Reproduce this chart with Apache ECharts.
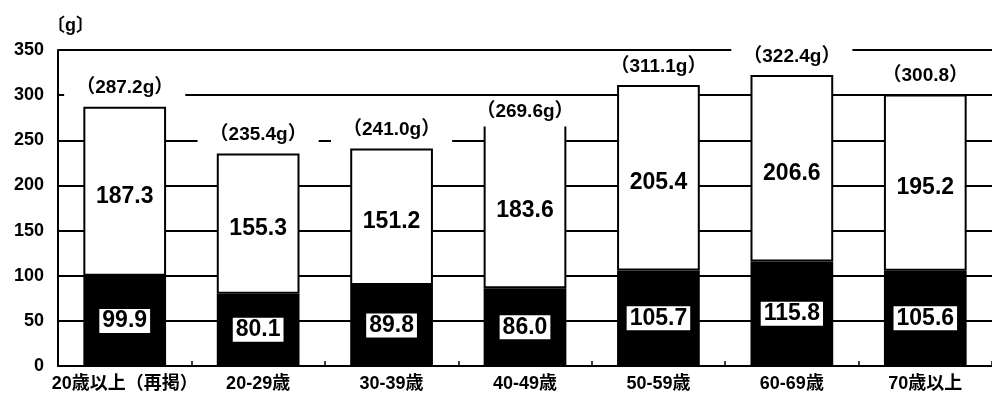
<!DOCTYPE html>
<html>
<head>
<meta charset="utf-8">
<script src="https://cdn.jsdelivr.net/npm/echarts@6/dist/echarts.min.js"></script>
<style>
  html, body { margin: 0; padding: 0; background: #fff; }
  #chart { width: 992px; height: 407px; }
</style>
</head>
<body>
<div id="chart"></div>
<script>
// Age groups and intake (g) split into two parts, plus the totals
const categories = ['20歳以上（再掲）', '20-29歳', '30-39歳', '40-49歳', '50-59歳', '60-69歳', '70歳以上'];
const lowerValues = [99.9, 80.1, 89.8, 86.0, 105.7, 115.8, 105.6];
const upperValues = [187.3, 155.3, 151.2, 183.6, 205.4, 206.6, 195.2];
const totals = [287.2, 235.4, 241.0, 269.6, 311.1, 322.4, 300.8];
const totalSuffix = ['g', 'g', 'g', 'g', 'g', 'g', ''];
const yTicks = [0, 50, 100, 150, 200, 250, 300, 350];

const FONT = "'Liberation Sans','Noto Sans CJK JP',sans-serif";

const chart = echarts.init(document.getElementById('chart'), null, { renderer: 'canvas' });

chart.setOption({
  animation: false,
  backgroundColor: '#fff',
  title: {
    text: '〔g〕',
    left: 42,
    top: 12,
    textStyle: { fontFamily: FONT, fontSize: 18, fontWeight: 'bold', color: '#000' }
  },
  grid: { left: 58, right: 0, top: 50, bottom: 41, containLabel: false },
  xAxis: {
    type: 'category',
    data: categories,
    axisLine: { lineStyle: { color: '#000', width: 2 } },
    axisTick: { show: true, inside: true, length: 5, lineStyle: { color: '#000', width: 1.5 } },
    axisLabel: {
      interval: 0,
      margin: 9,
      fontFamily: FONT, fontSize: 18, fontWeight: 'bold', color: '#000'
    }
  },
  yAxis: {
    type: 'value',
    min: yTicks[0],
    max: yTicks[yTicks.length - 1],
    interval: 50,
    axisLine: { show: true, lineStyle: { color: '#000', width: 2 } },
    axisTick: { show: false },
    axisLabel: {
      margin: 14,
      fontFamily: FONT, fontSize: 18, fontWeight: 'bold', color: '#000'
    },
    splitLine: { show: true, lineStyle: { color: '#000', width: 2 } }
  },
  series: [
    {
      name: 'lower',
      type: 'bar',
      stack: 'intake',
      barWidth: '62%',
      data: lowerValues,
      itemStyle: { color: '#000', borderColor: '#000', borderWidth: 0 },
      label: {
        show: true,
        position: 'inside',
        formatter: p => p.value.toFixed(1),
        fontFamily: FONT, fontSize: 23, fontWeight: 'bold', color: '#000',
        backgroundColor: '#fff',
        padding: [1, 3, 0, 3]
      }
    },
    {
      name: 'upper',
      type: 'bar',
      stack: 'intake',
      barWidth: '62%',
      data: upperValues,
      itemStyle: { color: '#fff', borderColor: '#000', borderWidth: 2 },
      label: {
        show: true,
        position: 'inside',
        offset: [0, 5],
        formatter: p => p.value.toFixed(1),
        fontFamily: FONT, fontSize: 23, fontWeight: 'bold', color: '#000'
      }
    },
    {
      // transparent bar of the total height, drawn on top, only carries the total label
      name: 'total',
      type: 'bar',
      barWidth: '62%',
      barGap: '-100%',
      z: 3,
      data: totals.map((v, i) => i === 3 ? { value: v, label: { distance: -4 } } : v),
      itemStyle: { color: 'rgba(0,0,0,0)' },
      label: {
        show: true,
        position: 'top',
        distance: 4,
        formatter: p => '（' + p.value.toFixed(1) + totalSuffix[p.dataIndex] + '）',
        fontFamily: FONT, fontSize: 19, fontWeight: 'bold', color: '#000',
        backgroundColor: '#fff',
        padding: [5, 12, 5, 12]
      }
    }
  ]
});
</script>
</body>
</html>
